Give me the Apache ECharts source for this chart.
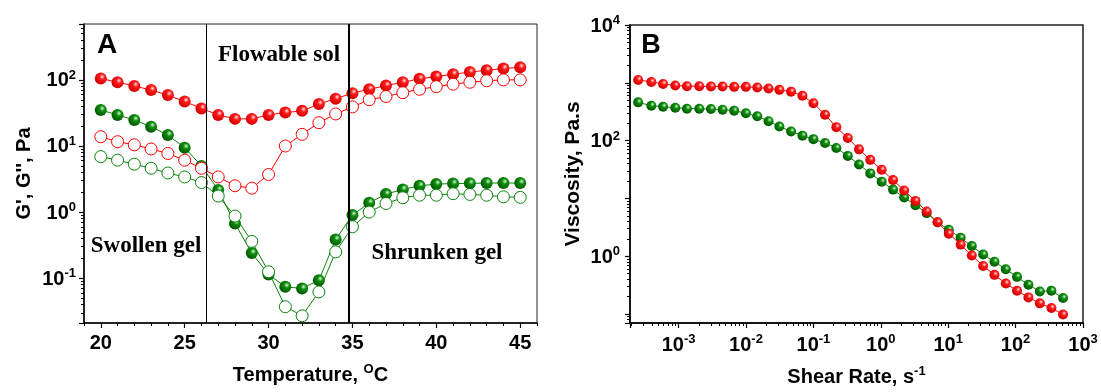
<!DOCTYPE html>
<html>
<head>
<meta charset="utf-8">
<script src="https://cdn.jsdelivr.net/npm/echarts@6/dist/echarts.min.js"></script>
<style>
  html, body { margin: 0; padding: 0; background: #fff; }
  #chart { width: 1101px; height: 392px; }
</style>
</head>
<body>
<div id="chart"></div>
<script>
const F = '"Liberation Sans", Arial, sans-serif';

// panel A: moduli vs temperature
const temps = [20, 21, 22, 23, 24, 25, 26, 27, 28, 29, 30, 31, 32, 33, 34, 35, 36, 37, 38, 39, 40, 41, 42, 43, 44, 45];
const tempTicks = [20, 25, 30, 35, 40, 45];
const storageRed = [105, 92, 81, 70, 59, 47, 37, 29.5, 25.7, 25.7, 29.5, 32, 34, 43, 52, 63, 72, 82, 92, 104, 112, 122, 131, 140, 148, 155];
const lossRed = [13.8, 11.6, 10.4, 9.0, 7.7, 6.1, 4.6, 3.4, 2.5, 2.3, 3.7, 10, 15, 22.5, 30.5, 39, 50, 56, 64, 72, 79, 86, 92, 97, 100, 100];
const storageGreen = [35, 29.5, 24.7, 19.6, 14.6, 9.4, 5.0, 2.15, 0.67, 0.24, 0.114, 0.074, 0.070, 0.093, 0.385, 0.90, 1.38, 1.87, 2.2, 2.5, 2.65, 2.7, 2.72, 2.75, 2.75, 2.75];
const lossGreen = [6.9, 6.1, 5.3, 4.6, 3.9, 3.4, 2.8, 1.75, 0.87, 0.36, 0.125, 0.037, 0.027, 0.062, 0.25, 0.60, 1.0, 1.35, 1.65, 1.8, 1.8, 1.9, 1.85, 1.8, 1.7, 1.67];
const phaseBounds = [26.3, 34.8];

// panel B: viscosity vs shear rate
const shearRates = [2.51e-4, 3.94e-4, 5.88e-4, 8.93e-4, 1.33e-3, 2.03e-3, 3.02e-3, 4.49e-3, 6.68e-3, 9.97e-3,
  1.47e-2, 2.16e-2, 3.13e-2, 4.67e-2, 6.88e-2, 0.100, 0.149, 0.219, 0.324, 0.475,
  0.698, 1.03, 1.52, 2.22, 3.27, 4.79, 6.96, 10.2, 15.3, 22.4,
  33.0, 48.6, 71.6, 105, 155, 229, 340, 506];
const viscRed = [1122, 1036, 957, 899, 874, 874, 864, 864, 851, 851,
  830, 798, 755, 703, 596, 443, 281, 171, 111, 70.6,
  46.5, 31.3, 20.8, 13.7, 9.06, 5.96, 3.86, 2.46, 1.59, 1.03,
  0.679, 0.476, 0.338, 0.253, 0.194, 0.153, 0.127, 0.098];
const viscGreen = [459, 402, 386, 371, 357, 357, 352, 343, 330, 297,
  264, 217, 175, 144, 122, 106, 91, 74.6, 54.4, 38.6,
  27.1, 19.5, 14.2, 10.4, 7.64, 5.57, 3.86, 2.88, 2.08, 1.50,
  1.07, 0.805, 0.594, 0.440, 0.321, 0.246, 0.253, 0.189];

function pairs(xs, ys) { return xs.map((x, i) => [x, ys[i]]); }

function ball(c0, c1, c2) {
  return {
    type: 'radial', x: 0.62, y: 0.36, r: 0.64,
    colorStops: [{ offset: 0, color: c0 }, { offset: 0.35, color: c1 }, { offset: 1, color: c2 }]
  };
}
const redBall = ball('#ffe4e4', '#ff1a1a', '#d00000');
const greenBall = ball('#d8f5d8', '#0e8e0e', '#005800');

// log minor ticks 2..9 per decade
function minorLogTicks(lo, hi) {
  const out = [];
  for (let d = Math.floor(Math.log10(lo)); d <= Math.ceil(Math.log10(hi)); d++) {
    for (let m = 2; m <= 9; m++) {
      const v = m * Math.pow(10, d);
      if (v > lo && v < hi) out.push(v);
    }
  }
  return out;
}

function powLabel(step) {
  return function (v) {
    const e = Math.log10(v);
    const r = Math.round(e);
    if (Math.abs(e - r) > 1e-6 || r % step !== 0) return '';
    return '{b|10}{s|' + r + '}';
  };
}

const rich = {
  b: { fontSize: 20, fontWeight: 'bold', fontFamily: F, color: '#000', lineHeight: 22, verticalAlign: 'bottom' },
  s: { fontSize: 13, fontWeight: 'bold', fontFamily: F, color: '#000', lineHeight: 13, verticalAlign: 'top' }
};
const nameRich = {
  n: { fontSize: 20, fontWeight: 'bold', fontFamily: F, color: '#000', lineHeight: 22, verticalAlign: 'bottom' },
  s: { fontSize: 13, fontWeight: 'bold', fontFamily: F, color: '#000', lineHeight: 13, verticalAlign: 'top' }
};

const axisLine = { show: true, lineStyle: { color: '#000', width: 1.5 } };
const tick = { show: true, length: 5, lineStyle: { color: '#000', width: 1.2 } };
const minor = (vals) => ({ show: true, length: 3, lineStyle: { color: '#000', width: 1 }, customValues: vals });
const bareAxis = { axisLine: { show: false }, splitLine: { show: false }, axisLabel: { show: false } };

const serif = 'bold 23px "Liberation Serif", serif';

const chart = echarts.init(document.getElementById('chart'));

const option = {
  animation: false,
  backgroundColor: '#fff',
  grid: [
    { left: 84, top: 24, width: 453, height: 299, show: true, borderColor: '#222', borderWidth: 1 },
    { left: 630, top: 25, width: 453, height: 301, show: true, borderColor: '#222', borderWidth: 1.5 }
  ],
  xAxis: [
    {
      gridIndex: 0, type: 'value', min: 19, max: 46, position: 'bottom',
      axisLine: axisLine, axisTick: Object.assign({ customValues: tempTicks }, tick),
      splitLine: { show: false },
      axisLabel: { customValues: tempTicks, color: '#000', fontFamily: F, fontWeight: 'bold', fontSize: 20, margin: 10 },
      name: '{n|Temperature, }{s|O}{n|C}', nameLocation: 'middle', nameGap: 40,
      nameTextStyle: { rich: nameRich }
    },
    {
      gridIndex: 1, type: 'log', min: 1.9e-4, max: 1000, position: 'bottom',
      axisLine: axisLine, axisTick: tick, splitLine: { show: false },
      axisLabel: { formatter: powLabel(1), rich: rich, margin: 10 },
      name: '{n|Shear Rate, s}{s|-1}', nameLocation: 'middle', nameGap: 42,
      nameTextStyle: { rich: nameRich }
    },
    Object.assign({
      gridIndex: 1, type: 'log', min: 1.9e-4, max: 1000, position: 'bottom', offset: 0,
      axisTick: minor(minorLogTicks(1.9e-4, 1000))
    }, bareAxis),
    Object.assign({
      gridIndex: 0, type: 'value', min: 19, max: 46, position: 'bottom', offset: 0,
      axisTick: minor(temps.concat([19, 46]).filter(t => t % 5 !== 0))
    }, bareAxis)
  ],
  yAxis: [
    {
      gridIndex: 0, type: 'log', min: 0.021, max: 700, position: 'left',
      axisLine: axisLine, axisTick: tick, splitLine: { show: false },
      axisLabel: { formatter: powLabel(1), rich: rich, margin: 8 },
      name: "G', G'', Pa", nameLocation: 'middle', nameGap: 50,
      nameTextStyle: { fontFamily: F, fontWeight: 'bold', fontSize: 20, color: '#000' }
    },
    {
      gridIndex: 1, type: 'log', min: 0.07, max: 10000, position: 'left',
      axisLine: axisLine, axisTick: tick, splitLine: { show: false },
      axisLabel: { formatter: powLabel(2), rich: rich, margin: 10 },
      name: 'Viscosity, Pa.s', nameLocation: 'middle', nameGap: 46,
      nameTextStyle: { fontFamily: F, fontWeight: 'bold', fontSize: 21, color: '#000' }
    },
    Object.assign({
      gridIndex: 0, type: 'log', min: 0.021, max: 700, position: 'left', offset: 0,
      axisTick: minor(minorLogTicks(0.021, 700))
    }, bareAxis),
    Object.assign({
      gridIndex: 1, type: 'log', min: 0.07, max: 10000, position: 'left', offset: 0,
      axisTick: minor(minorLogTicks(0.07, 10000))
    }, bareAxis)
  ],
  graphic: [
    { type: 'text', x: 107, y: 45, style: { text: 'A', font: 'bold 28px ' + F, fill: '#000', align: 'center', verticalAlign: 'middle' } },
    { type: 'text', x: 651, y: 46, style: { text: 'B', font: 'bold 27px ' + F, fill: '#000', align: 'center', verticalAlign: 'middle' } },
    { type: 'text', x: 279, y: 55, style: { text: 'Flowable sol', font: serif, fill: '#000', align: 'center', verticalAlign: 'middle' } },
    { type: 'text', x: 146, y: 246, style: { text: 'Swollen gel', font: serif, fill: '#000', align: 'center', verticalAlign: 'middle' } },
    { type: 'text', x: 437, y: 253, style: { text: 'Shrunken gel', font: serif, fill: '#000', align: 'center', verticalAlign: 'middle' } }
  ],
  series: [
    {
      type: 'line', xAxisIndex: 0, yAxisIndex: 0, data: pairs(temps, storageRed),
      symbol: 'circle', symbolSize: 12, itemStyle: { color: redBall },
      lineStyle: { color: '#ff0000', width: 1 },
      markLine: {
        silent: true, symbol: ['none', 'none'], label: { show: false },
        lineStyle: { color: '#000', type: 'solid', width: 1 },
        data: [{ xAxis: phaseBounds[0] }, { xAxis: phaseBounds[1], lineStyle: { width: 2 } }]
      }
    },
    {
      type: 'line', xAxisIndex: 0, yAxisIndex: 0, data: pairs(temps, storageGreen),
      symbol: 'circle', symbolSize: 12, itemStyle: { color: greenBall },
      lineStyle: { color: '#0a850a', width: 1 }
    },
    {
      type: 'line', xAxisIndex: 0, yAxisIndex: 0, data: pairs(temps, lossRed),
      symbol: 'circle', symbolSize: 12,
      itemStyle: { color: '#fff', borderColor: '#ff0000', borderWidth: 1 },
      lineStyle: { color: '#ff0000', width: 1 }
    },
    {
      type: 'line', xAxisIndex: 0, yAxisIndex: 0, data: pairs(temps, lossGreen),
      symbol: 'circle', symbolSize: 12,
      itemStyle: { color: '#fff', borderColor: '#0a850a', borderWidth: 1 },
      lineStyle: { color: '#0a850a', width: 1 }
    },
    {
      type: 'line', xAxisIndex: 1, yAxisIndex: 1, data: pairs(shearRates, viscGreen),
      symbol: 'circle', symbolSize: 10, itemStyle: { color: greenBall },
      lineStyle: { color: '#0a850a', width: 1 }
    },
    {
      type: 'line', xAxisIndex: 1, yAxisIndex: 1, data: pairs(shearRates, viscRed),
      symbol: 'circle', symbolSize: 10, itemStyle: { color: redBall },
      lineStyle: { color: '#ff0000', width: 1 }
    }
  ]
};

chart.setOption(option);
</script>
</body>
</html>
